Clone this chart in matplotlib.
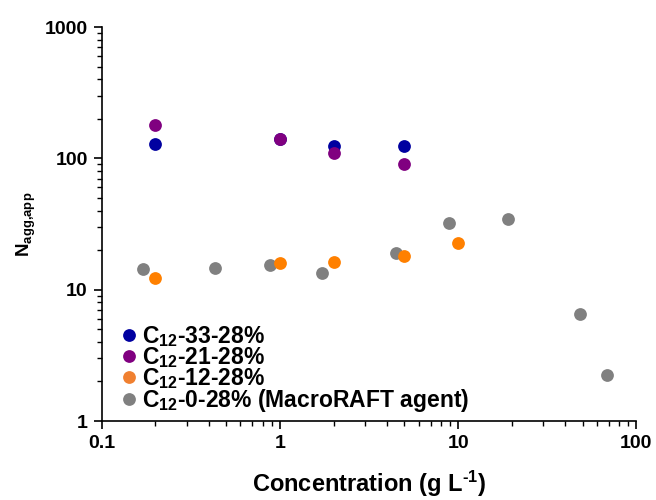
import matplotlib

matplotlib.use("Agg")
import matplotlib.pyplot as plt
from matplotlib.ticker import FixedLocator, FixedFormatter, LogLocator, NullFormatter

plt.rcParams["font.family"] = ["Liberation Sans", "DejaVu Sans"]
plt.rcParams["font.weight"] = "bold"
plt.rcParams["mathtext.fontset"] = "custom"
plt.rcParams["mathtext.rm"] = "Liberation Sans:bold"
plt.rcParams["mathtext.it"] = "Liberation Sans:bold"
plt.rcParams["mathtext.bf"] = "Liberation Sans:bold"

# data
c33_x = [0.2, 1.0, 2.0, 5.0]
c33_y = [128, 140, 124, 124]
c21_x = [0.2, 1.0, 2.0, 5.0]
c21_y = [180, 140, 110, 90]
c12_x = [0.2, 1.0, 2.0, 5.0, 10.0]
c12_y = [12.2, 15.9, 16.2, 18.0, 22.6]
c0_x = [0.17, 0.435, 0.88, 1.73, 4.47, 8.9, 19.0, 48.0, 68.5]
c0_y = [14.4, 14.6, 15.4, 13.4, 19.0, 32.0, 34.5, 6.5, 2.24]

labels = [
    r"C$_{12}$-33-28%",
    r"C$_{12}$-21-28%",
    r"C$_{12}$-12-28%",
    r"C$_{12}$-0-28% (MacroRAFT agent)",
]
x_ticks = [0.1, 1, 10, 100]
x_tick_labels = ["0.1", "1", "10", "100"]
y_ticks = [1, 10, 100, 1000]
y_tick_labels = ["1", "10", "100", "1000"]

fig = plt.figure(figsize=(6.56, 5.0), dpi=100)
ax = fig.add_axes([0.155, 0.158, 0.815, 0.788])

ms = 9.2
ax.plot(c0_x, c0_y, "o", color="#808080", ms=ms, mec="none", label=labels[3])
ax.plot(c12_x, c12_y, "o", color="#FF8000", ms=ms, mec="none", label=labels[2])
ax.plot(c33_x, c33_y, "o", color="#0000A0", ms=ms, mec="none", label=labels[0])
ax.plot(c21_x, c21_y, "o", color="#800080", ms=ms, mec="none", label=labels[1])

ax.set_xscale("log")
ax.set_yscale("log")
ax.set_xlim(0.1, 100)
ax.set_ylim(1, 1000)

ax.xaxis.set_major_locator(FixedLocator(x_ticks))
ax.xaxis.set_major_formatter(FixedFormatter(x_tick_labels))
ax.yaxis.set_major_locator(FixedLocator(y_ticks))
ax.yaxis.set_major_formatter(FixedFormatter(y_tick_labels))
ax.xaxis.set_minor_locator(LogLocator(base=10, subs=range(2, 10)))
ax.yaxis.set_minor_locator(LogLocator(base=10, subs=range(2, 10)))
ax.xaxis.set_minor_formatter(NullFormatter())
ax.yaxis.set_minor_formatter(NullFormatter())

for side in ("top", "right"):
    ax.spines[side].set_visible(False)
for side in ("left", "bottom"):
    ax.spines[side].set_linewidth(1.2)
ax.tick_params(which="major", direction="out", length=6, width=1.2, labelsize=14, pad=4)
ax.tick_params(which="minor", direction="out", length=3.5, width=1.0)
for lbl in ax.get_xticklabels() + ax.get_yticklabels():
    lbl.set_fontweight("bold")

ax.set_xlabel(r"Concentration (g L$^{\text{-1}}$)", fontsize=17, fontweight="bold", labelpad=12)
ax.set_ylabel(r"N$_{agg{,}app}$", fontsize=13.5, fontweight="bold", labelpad=5)

handles, leg_labels = ax.get_legend_handles_labels()
order = [2, 3, 1, 0]
leg_colors = ["#0000A0", "#800080", "#F08030", "#808080"]
leg = ax.legend(
    [handles[i] for i in order],
    [leg_labels[i] for i in order],
    loc="lower left",
    bbox_to_anchor=(0.0, -0.023),
    frameon=False,
    handletextpad=0.05,
    handlelength=1.0,
    labelspacing=-0.17,
    borderaxespad=0.3,
    prop={"weight": "bold", "size": 16.5},
)
for h, c in zip(leg.legend_handles, leg_colors):
    h.set_color(c)

fig.savefig("out.png", dpi=100)
